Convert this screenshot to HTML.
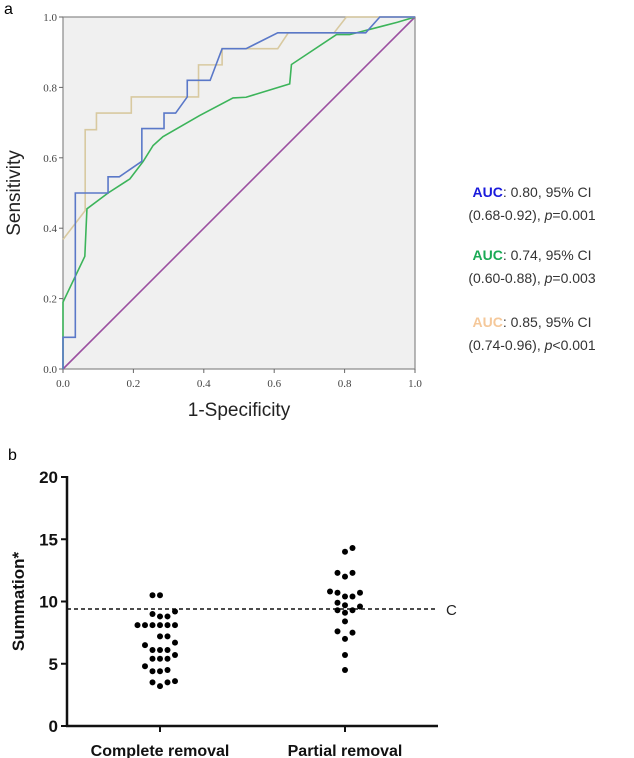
<!DOCTYPE html>
<html><head><meta charset="utf-8">
<style>
html,body{margin:0;padding:0;background:#fff;}
svg{display:block;font-family:"Liberation Sans",sans-serif;}
</style></head>
<body>
<svg id="fig" width="634" height="758" viewBox="0 0 634 758"></svg>
<script>
// ROC data (x = 1-specificity, y = sensitivity)
const blueX = [0,0,0.035,0.035,0.128,0.128,0.16,0.224,0.224,0.287,0.287,0.32,0.353,0.353,0.418,0.452,0.52,0.61,0.64,0.86,0.9,1];
const blueY = [0,0.09,0.09,0.5,0.5,0.546,0.546,0.59,0.683,0.683,0.727,0.727,0.773,0.82,0.82,0.91,0.91,0.955,0.955,0.955,1,1];
const tanX = [0,0.063,0.063,0.095,0.095,0.194,0.194,0.385,0.385,0.452,0.452,0.61,0.64,0.77,0.805,1];
const tanY = [0.368,0.45,0.68,0.68,0.727,0.727,0.773,0.773,0.864,0.864,0.91,0.91,0.955,0.955,1,1];
const greenX = [0,0,0.062,0.068,0.128,0.19,0.228,0.256,0.284,0.388,0.483,0.52,0.644,0.649,0.777,0.814,0.95,1];
const greenY = [0,0.19,0.32,0.455,0.5,0.54,0.59,0.635,0.66,0.72,0.77,0.772,0.81,0.865,0.95,0.95,0.985,1];
const rocTicks = ["0.0","0.2","0.4","0.6","0.8","1.0"];
// Dot plot data
const completeVals = [10.5,10.5,9.0,8.8,8.8,9.2,8.1,8.1,8.1,8.1,8.1,8.1,7.2,7.2,6.5,6.7,6.1,6.1,6.1,5.7,5.4,5.4,5.4,4.8,4.4,4.4,4.5,3.5,3.2,3.5,3.6];
const completeSlot = [-1,0,-1,0,1,2,-3,-2,-1,0,1,2,0,1,-2,2,-1,0,1,2,-1,0,1,-2,-1,0,1,-1,0,1,2];
const partialVals = [14.3,14.0,12.3,12.0,12.3,10.8,10.7,10.4,10.4,10.7,9.9,9.7,9.6,9.3,9.1,9.3,8.4,7.6,7.5,7.0,5.7,4.5];
const partialSlot = [1,0,-1,0,1,-2,-1,0,1,2,-1,0,2,-1,0,1,0,-1,1,0,0,0];
const yTicksB = [0,5,10,15,20];
const cutoff = 9.4;

const NS="http://www.w3.org/2000/svg";
const svg=document.getElementById('fig');
function mk(tag,attrs,parent){const e=document.createElementNS(NS,tag);for(const k in attrs)e.setAttribute(k,attrs[k]);(parent||svg).appendChild(e);return e;}

// Panel a
const ax0=63,ax1=415,ay0=369,ay1=17;
const sx=v=>ax0+v*(ax1-ax0), sy=v=>ay0-v*(ay0-ay1);
let t=mk('text',{x:4,y:14,'font-size':16});t.textContent='a';


let r=mk('rect',{x:ax0,y:ay1,width:ax1-ax0,height:ay0-ay1,fill:'#f0f0f0',stroke:'#888','stroke-width':1.2});


rocTicks.forEach((lab,i)=>{const v=i/5;
  mk('line',{x1:ax0-4,x2:ax0,y1:sy(v),y2:sy(v),stroke:'#666'});
  let ty=mk('text',{x:ax0-6,y:sy(v)+4,'font-size':11,'text-anchor':'end',fill:'#444','font-family':'Liberation Serif, serif'});ty.textContent=lab;
  
  
  mk('line',{x1:sx(v),x2:sx(v),y1:ay0,y2:ay0+4,stroke:'#666'});
  let tx=mk('text',{x:sx(v),y:ay0+18,'font-size':11,'text-anchor':'middle',fill:'#444','font-family':'Liberation Serif, serif'});tx.textContent=lab;
  
  
});
let yt=mk('text',{x:0,y:0,'font-size':19,'text-anchor':'middle',transform:`translate(20,${(ay0+ay1)/2}) rotate(-90)`,fill:'#222'});yt.textContent='Sensitivity';


let xt=mk('text',{x:(ax0+ax1)/2,y:416,'font-size':19,'text-anchor':'middle',fill:'#222'});xt.textContent='1-Specificity';


let diag=mk('line',{x1:sx(0),y1:sy(0),x2:sx(1),y2:sy(1),stroke:'#9b4fa0','stroke-width':1.6});


function curve(xs,ys,col,name){const p=xs.map((x,i)=>sx(x)+','+sy(ys[i])).join(' ');
  const e=mk('polyline',{points:p,fill:'none',stroke:col,'stroke-width':1.6});
  
  }
curve(greenX,greenY,'#3cb45a','roc-curve-green');
curve(tanX,tanY,'#d8c9a0','roc-curve-tan');
curve(blueX,blueY,'#5a78c8','roc-curve-blue');

const legend=[['#1a1adc','0.80','(0.68-0.92), ','=0.001',192],['#1aaa55','0.74','(0.60-0.88), ','=0.003',255],['#f5c89a','0.85','(0.74-0.96), ','<0.001',322]];
legend.forEach(l=>{
  const a=mk('text',{x:532,y:l[4]+5,'font-size':14,'text-anchor':'middle',fill:'#333'});
  
  
  const s=mk('tspan',{fill:l[0],'font-weight':'bold'},a);s.textContent='AUC';
  const s2=mk('tspan',{},a);s2.textContent=': '+l[1]+', 95% CI';
  const b=mk('text',{x:532,y:l[4]+28,'font-size':14,'text-anchor':'middle',fill:'#333'});
  
  
  const b1=mk('tspan',{},b);b1.textContent=l[2];
  const b2=mk('tspan',{'font-style':'italic'},b);b2.textContent='p';
  const b3=mk('tspan',{},b);b3.textContent=l[3];
});

// Panel b
const bx0=67,bx1=438,by0=726,byTop=477;
const syb=v=>by0-v*(by0-byTop)/20;
const catX=[160,345], slotW=7.5;
let tb=mk('text',{x:8,y:460,'font-size':16});tb.textContent='b';


let ya=mk('line',{x1:bx0,x2:bx0,y1:byTop-1,y2:by0,stroke:'#111','stroke-width':2.5});


let xa=mk('line',{x1:bx0-1,x2:bx1,y1:by0,y2:by0,stroke:'#111','stroke-width':2.5});


yTicksB.forEach(v=>{mk('line',{x1:bx0-6,x2:bx0,y1:syb(v),y2:syb(v),stroke:'#111','stroke-width':2});
  const e=mk('text',{x:bx0-9,y:syb(v)+6,'font-size':17,'font-weight':'bold','text-anchor':'end',fill:'#111'});e.textContent=v;
  
  });
let yb=mk('text',{x:0,y:0,'font-size':17,'font-weight':'bold','text-anchor':'middle',transform:`translate(24,${syb(10)}) rotate(-90)`,fill:'#111'});yb.textContent='Summation*';


['Complete removal','Partial removal'].forEach((c,i)=>{
  mk('line',{x1:catX[i],x2:catX[i],y1:by0,y2:by0+6,stroke:'#111','stroke-width':2});
  const e=mk('text',{x:catX[i],y:by0+30,'font-size':16,'font-weight':'bold','text-anchor':'middle',fill:'#111'});e.textContent=c;
  
  });
let cl=mk('line',{x1:bx0,x2:bx1,y1:syb(cutoff),y2:syb(cutoff),stroke:'#111','stroke-width':1.5,'stroke-dasharray':'4,3'});


let ct=mk('text',{x:446,y:syb(cutoff)+6,'font-size':15,fill:'#222'});ct.textContent='C';


completeVals.forEach((v,i)=>{const d=mk('circle',{cx:catX[0]+completeSlot[i]*slotW,cy:syb(v),r:3,fill:'#000'});
  
  });
partialVals.forEach((v,i)=>{const d=mk('circle',{cx:catX[1]+partialSlot[i]*slotW,cy:syb(v),r:3,fill:'#000'});
  
  });
</script>
</body></html>
